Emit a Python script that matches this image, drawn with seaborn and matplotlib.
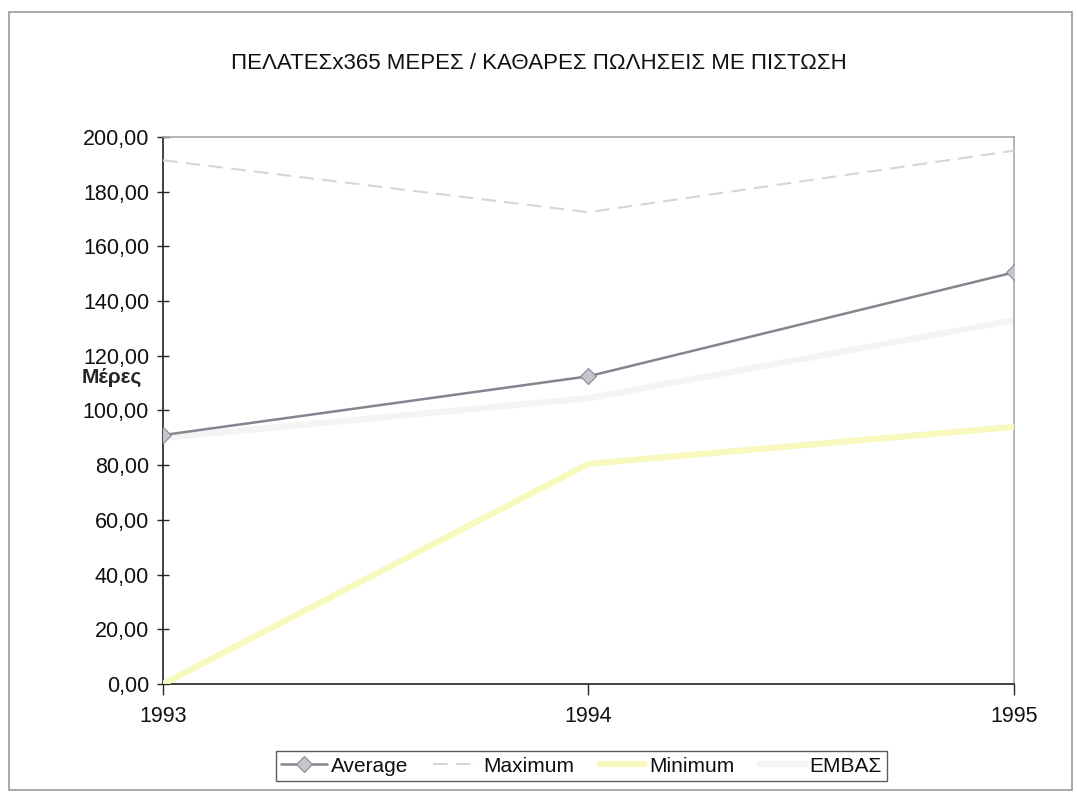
import matplotlib
matplotlib.use("Agg")
import matplotlib.pyplot as plt
import matplotlib.ticker as mticker
import seaborn as sns
import pandas as pd

# Data
years = [1993, 1994, 1995]
average = [91.0, 112.5, 150.5]
maximum = [191.5, 172.5, 195.0]
minimum = [0.0, 80.5, 94.0]
embas = [90.0, 104.5, 133.0]

sns.set_style("white")
plt.rcParams['font.family'] = ['Liberation Sans', 'DejaVu Sans']
plt.rcParams['text.color'] = '#111111'

fig = plt.figure(figsize=(10.77, 7.98), dpi=100)
ax = fig.add_axes([0.1513, 0.1429, 0.79, 0.6854])

df = pd.DataFrame({'year': years, 'Average': average, 'Maximum': maximum,
                   'Minimum': minimum, 'ΕΜΒΑΣ': embas})

sns.lineplot(data=df, x='year', y='Average', ax=ax, color='#85858f', lw=1.8,
             marker='D', markersize=8, markerfacecolor='#c4c4cc',
             markeredgecolor='#85858f', label='Average', zorder=5)
sns.lineplot(data=df, x='year', y='Maximum', ax=ax, color='#d6d6d6', lw=1.5,
             dashes=(7, 4), label='Maximum', zorder=4)
sns.lineplot(data=df, x='year', y='Minimum', ax=ax, color='#f7f9bf', lw=4.5,
             label='Minimum', zorder=3)
sns.lineplot(data=df, x='year', y='ΕΜΒΑΣ', ax=ax, color='#f3f5f5', lw=4.5,
             label='ΕΜΒΑΣ', zorder=2)

ax.set_xlim(1993, 1995)
ax.set_ylim(0, 200)
ax.set_xticks(years)
ax.set_xticklabels([str(y) for y in years])
ax.yaxis.set_major_locator(mticker.MultipleLocator(20))
ax.yaxis.set_major_formatter(mticker.FuncFormatter(lambda v, p: f"{v:.2f}".replace('.', ',')))
ax.tick_params(axis='y', direction='inout', length=8, width=1, labelsize=15.5, pad=6,
               left=True, labelcolor='#111111')
ax.tick_params(axis='x', direction='out', length=8, width=1, labelsize=15.5, pad=8,
               bottom=True, labelcolor='#111111')
ax.set_xlabel('')
ax.set_ylabel('Μέρες', rotation=0, fontsize=15, fontweight='bold', labelpad=0,
              ha='center', va='center')
ax.yaxis.set_label_coords(-0.06, 0.561)

for side in ['left', 'bottom']:
    ax.spines[side].set_color('#222222')
    ax.spines[side].set_linewidth(1.2)
for side in ['top', 'right']:
    ax.spines[side].set_color('#a8a8a8')
    ax.spines[side].set_linewidth(1.2)

fig.text(0.5, 0.921, 'ΠΕΛΑΤΕΣx365 ΜΕΡΕΣ / ΚΑΘΑΡΕΣ ΠΩΛΗΣΕΙΣ ΜΕ ΠΙΣΤΩΣΗ',
         ha='center', va='center', fontsize=16, color='#111111')

leg = ax.legend(loc='center', bbox_to_anchor=(0.492, -0.15), ncol=4, frameon=True,
                fontsize=15, handlelength=2.2, columnspacing=1.2, handletextpad=0.2,
                fancybox=False, borderpad=0.25)
leg.get_frame().set_edgecolor('#333333')
leg.get_frame().set_linewidth(1.0)

# outer chart border
fig.patches.append(plt.Rectangle((0.008, 0.01), 0.987, 0.975, transform=fig.transFigure,
                                 fill=False, edgecolor='#9a9a9a', lw=1.2))

fig.savefig('out.png', dpi=100)
